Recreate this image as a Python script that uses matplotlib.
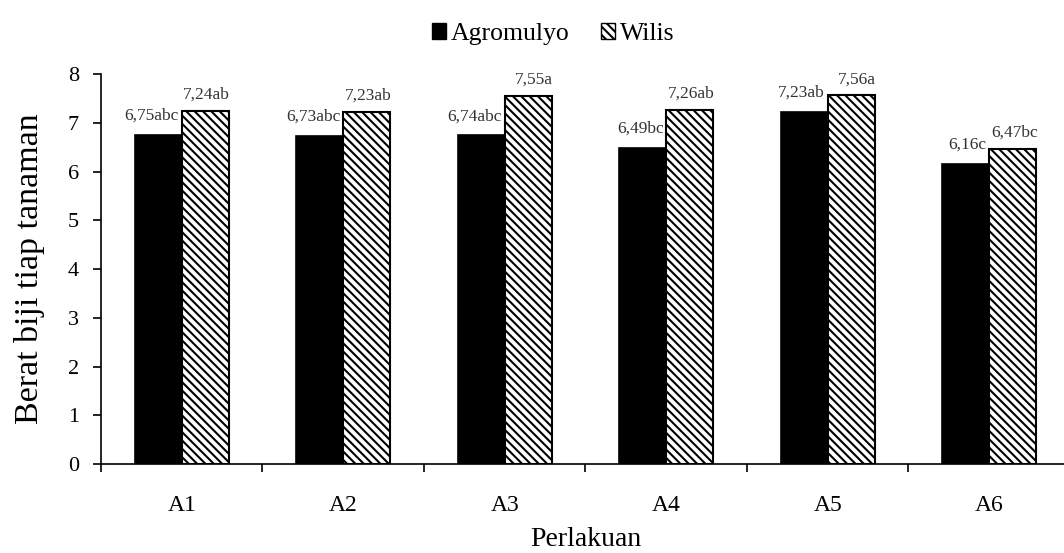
import numpy as np
import matplotlib.pyplot as plt
from matplotlib.patches import Patch
from matplotlib.ticker import FixedLocator, NullFormatter, FixedFormatter

categories = ['A1', 'A2', 'A3', 'A4', 'A5', 'A6']
agromulyo = [6.75, 6.73, 6.74, 6.49, 7.23, 6.16]
wilis = [7.24, 7.23, 7.55, 7.26, 7.56, 6.47]
lbl_agromulyo = ['6,75abc', '6,73abc', '6,74abc', '6,49bc', '7,23ab', '6,16c']
lbl_wilis = ['7,24ab', '7,23ab', '7,55a', '7,26ab', '7,56a', '6,47bc']

plt.rcParams['font.family'] = ['Liberation Serif', 'DejaVu Serif']
plt.rcParams['hatch.linewidth'] = 1.5

fig = plt.figure(figsize=(10.64, 5.53), dpi=100)
ax = fig.add_axes([0.0949, 0.1609, 0.9107, 0.7052])

x = np.arange(len(categories)) + 0.5
w = 0.29
ax.bar(x - w/2, agromulyo, w, color='black', edgecolor='black', linewidth=1.2)
ax.bar(x + w/2, wilis, w, color='white', edgecolor='black', linewidth=1.5, hatch='\\\\\\\\')

for i in range(len(categories)):
    ax.annotate(lbl_agromulyo[i], (x[i], agromulyo[i]), xytext=(-2, 8), textcoords='offset points',
                ha='right', va='bottom', fontsize=12.5, color='#333333')
    ax.annotate(lbl_wilis[i], (x[i] + w, wilis[i]), xytext=(1, 6), textcoords='offset points',
                ha='right', va='bottom', fontsize=12.5, color='#333333')

ax.set_xlim(0, 6)
ax.set_ylim(0, 8)
ax.set_yticks(range(0, 9))
ax.tick_params(axis='y', direction='out', length=6, width=1.2, pad=10, labelsize=16)
ax.xaxis.set_major_locator(FixedLocator(range(0, 7)))
ax.xaxis.set_major_formatter(NullFormatter())
ax.xaxis.set_minor_locator(FixedLocator(x))
ax.xaxis.set_minor_formatter(FixedFormatter(categories))
ax.tick_params(axis='x', which='major', direction='out', length=6, width=1.2)
ax.tick_params(axis='x', which='minor', length=0, pad=22, labelsize=17)

for s in ['top', 'right']:
    ax.spines[s].set_visible(False)
for s in ['left', 'bottom']:
    ax.spines[s].set_linewidth(1.2)

ax.set_ylabel('Berat biji tiap tanaman', fontsize=24.5, labelpad=16)
ax.set_xlabel('Perlakuan', fontsize=20, labelpad=8)

handles = [Patch(facecolor='black', edgecolor='black'),
           Patch(facecolor='white', edgecolor='black', hatch='\\\\\\\\')]
fig.legend(handles, ['Agromulyo', 'Wilis'], loc='upper center', bbox_to_anchor=(0.52, 1.0),
           ncol=2, frameon=False, fontsize=18.5, handlelength=0.55, handleheight=0.55,
           handletextpad=0.2, columnspacing=1.2)

plt.savefig('out.png', dpi=100)
